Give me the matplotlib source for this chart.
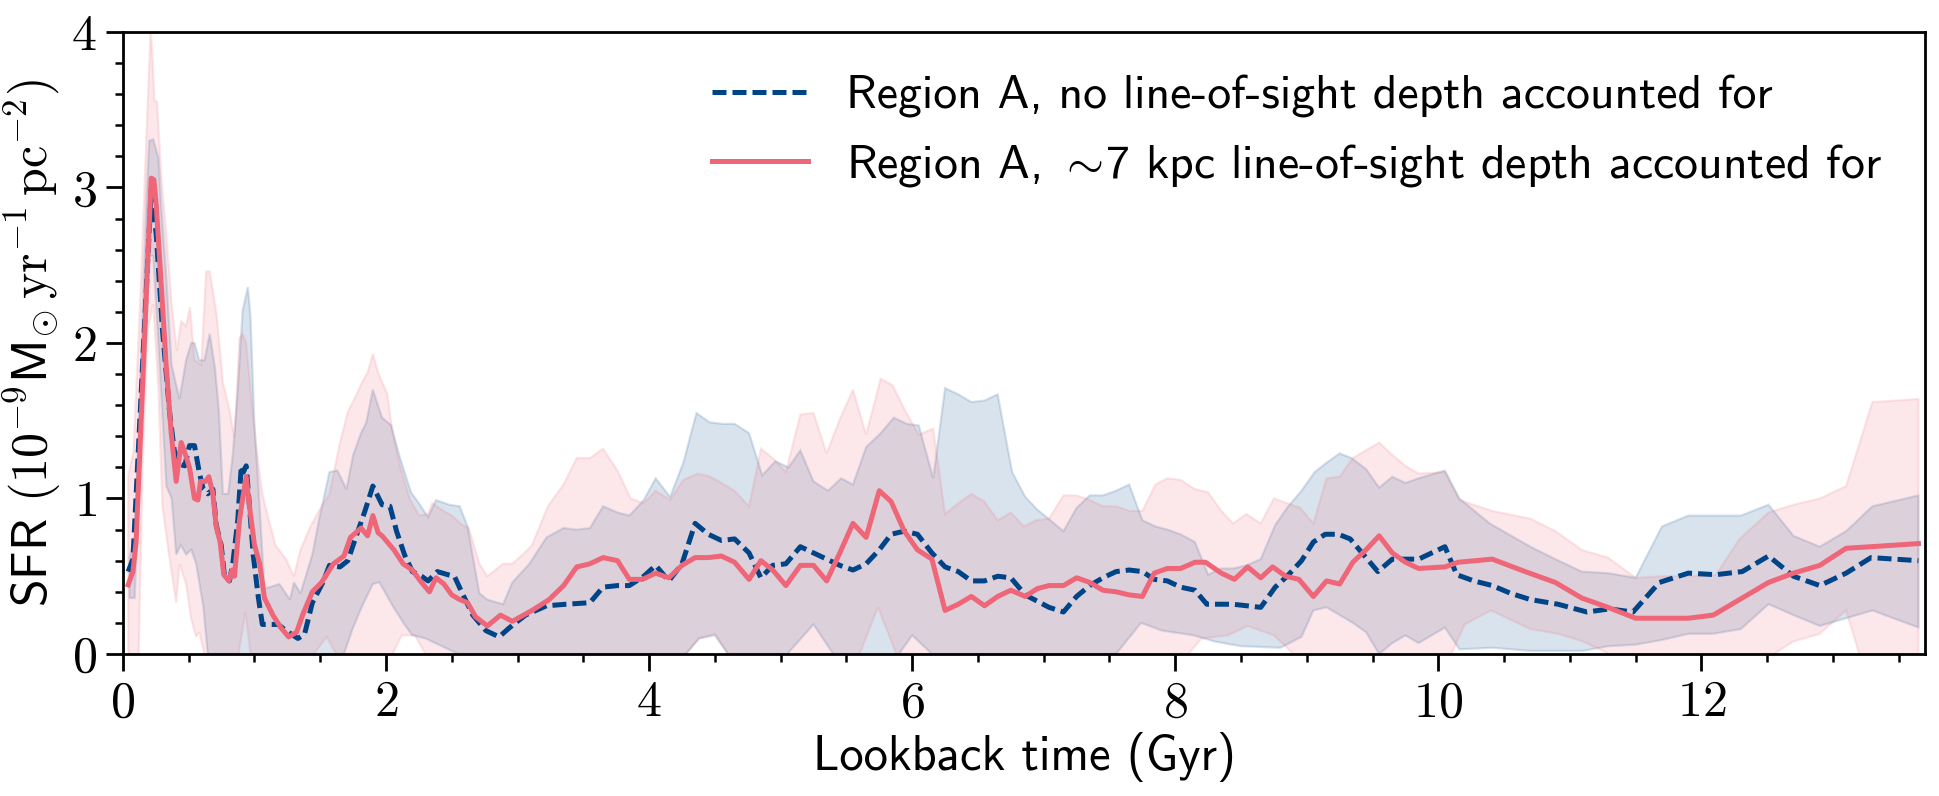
import numpy as np
import matplotlib
matplotlib.use("Agg")
import matplotlib.pyplot as plt
from matplotlib.ticker import MultipleLocator

# === Data ===
# Region A, no line-of-sight depth (dashed blue)
t_blue = [0.04, 0.076, 0.215, 0.253, 0.30, 0.354, 0.39, 0.43, 0.47, 0.506,
          0.544, 0.58, 0.61, 0.645, 0.684, 0.709, 0.747, 0.772, 0.81, 0.835,
          0.873, 0.90, 0.916, 0.937, 0.962, 0.99, 1.03, 1.06, 1.10, 1.18,
          1.24, 1.33, 1.38, 1.44, 1.52, 1.57, 1.65, 1.71, 1.77, 1.84,
          1.90, 1.97, 2.03, 2.08, 2.14, 2.20, 2.27, 2.32, 2.39, 2.47,
          2.52, 2.58, 2.66, 2.76, 2.86, 2.94, 3.06, 3.22, 3.37, 3.55,
          3.65, 3.76, 3.85, 3.96, 4.05, 4.15, 4.25, 4.35, 4.45, 4.55,
          4.65, 4.76, 4.85, 4.94, 5.04, 5.15, 5.25, 5.35, 5.45, 5.55,
          5.65, 5.75, 5.84, 5.94, 6.04, 6.15, 6.25, 6.35, 6.45, 6.55,
          6.65, 6.75, 6.86, 6.95, 7.04, 7.15, 7.25, 7.35, 7.45, 7.55,
          7.65, 7.75, 7.84, 7.94, 8.04, 8.15, 8.24, 8.44, 8.65, 8.76,
          8.85, 8.96, 9.05, 9.14, 9.24, 9.33, 9.42, 9.54, 9.65, 9.75,
          9.85, 9.95, 10.05, 10.14, 10.27, 10.41, 10.55, 10.70, 10.91, 11.13,
          11.30, 11.48, 11.68, 11.90, 12.11, 12.31, 12.51, 12.70, 12.90, 13.10,
          13.29, 13.65]
sfr_blue = [0.53, 0.61, 2.98, 2.70, 2.09, 1.56, 1.31, 1.22, 1.21, 1.34,
            1.34, 1.17, 1.06, 1.03, 1.06, 0.83, 0.70, 0.50, 0.47, 0.58,
            0.86, 1.21, 1.17, 1.21, 0.95, 0.64, 0.36, 0.19, 0.19, 0.19,
            0.15, 0.10, 0.125, 0.33, 0.46, 0.57, 0.56, 0.60, 0.75, 0.92,
            1.08, 0.96, 0.95, 0.79, 0.64, 0.53, 0.50, 0.47, 0.53, 0.51,
            0.50, 0.39, 0.25, 0.15, 0.11, 0.17, 0.25, 0.31, 0.32, 0.33,
            0.43, 0.44, 0.44, 0.50, 0.57, 0.47, 0.58, 0.84, 0.77, 0.73,
            0.74, 0.65, 0.49, 0.57, 0.58, 0.69, 0.65, 0.61, 0.57, 0.54,
            0.58, 0.67, 0.77, 0.79, 0.77, 0.65, 0.56, 0.53, 0.47, 0.47,
            0.50, 0.49, 0.38, 0.34, 0.30, 0.27, 0.37, 0.44, 0.49, 0.53,
            0.54, 0.53, 0.48, 0.47, 0.43, 0.41, 0.32, 0.32, 0.30, 0.43,
            0.50, 0.60, 0.72, 0.77, 0.77, 0.74, 0.65, 0.53, 0.61, 0.61,
            0.61, 0.65, 0.69, 0.51, 0.47, 0.44, 0.39, 0.35, 0.32, 0.27,
            0.29, 0.27, 0.46, 0.52, 0.51, 0.53, 0.63, 0.50, 0.44, 0.52,
            0.62, 0.60]

# Region A, ~7 kpc line-of-sight depth (solid red)
t_red = [0.04, 0.076, 0.10, 0.215, 0.235, 0.253, 0.29, 0.33, 0.367, 0.405,
         0.443, 0.476, 0.506, 0.544, 0.57, 0.59, 0.628, 0.653, 0.684, 0.709,
         0.739, 0.767, 0.805, 0.83, 0.848, 0.886, 0.91, 0.937, 0.962, 1.0,
         1.04, 1.076, 1.14, 1.2, 1.26, 1.32, 1.37, 1.44, 1.51, 1.6,
         1.68, 1.73, 1.81, 1.86, 1.9, 1.94, 1.97, 2.03, 2.06, 2.13,
         2.2, 2.27, 2.33, 2.38, 2.44, 2.5, 2.56, 2.62, 2.68, 2.77,
         2.87, 2.96, 3.11, 3.24, 3.35, 3.45, 3.55, 3.65, 3.76, 3.85,
         3.95, 4.05, 4.15, 4.25, 4.35, 4.45, 4.55, 4.65, 4.76, 4.85,
         4.94, 5.04, 5.15, 5.25, 5.35, 5.45, 5.55, 5.65, 5.75, 5.84,
         5.94, 6.04, 6.15, 6.25, 6.35, 6.45, 6.55, 6.65, 6.75, 6.86,
         6.95, 7.04, 7.15, 7.25, 7.35, 7.45, 7.55, 7.65, 7.75, 7.84,
         7.94, 8.04, 8.15, 8.23, 8.35, 8.45, 8.55, 8.65, 8.74, 8.84,
         8.94, 9.05, 9.15, 9.25, 9.35, 9.45, 9.55, 9.65, 9.75, 9.85,
         10.05, 10.15, 10.41, 10.66, 10.89, 11.09, 11.29, 11.5, 11.7, 11.9,
         12.09, 12.29, 12.51, 12.7, 12.9, 13.1, 13.29, 13.65]
sfr_red = [0.445, 0.53, 0.72, 3.06, 3.05, 2.89, 2.39, 1.84, 1.42, 1.11,
           1.36, 1.28, 1.20, 1.00, 0.99, 1.11, 1.11, 1.14, 1.03, 0.82,
           0.72, 0.51, 0.47, 0.54, 0.50, 0.86, 1.00, 1.14, 0.95, 0.70,
           0.58, 0.36, 0.25, 0.17, 0.11, 0.14, 0.26, 0.40, 0.46, 0.58,
           0.63, 0.75, 0.81, 0.76, 0.89, 0.78, 0.76, 0.70, 0.67, 0.58,
           0.54, 0.46, 0.40, 0.49, 0.45, 0.38, 0.35, 0.33, 0.24, 0.18,
           0.25, 0.21, 0.28, 0.35, 0.44, 0.56, 0.58, 0.62, 0.60, 0.48,
           0.48, 0.52, 0.49, 0.57, 0.62, 0.62, 0.63, 0.59, 0.48, 0.60,
           0.54, 0.44, 0.57, 0.57, 0.47, 0.65, 0.84, 0.75, 1.05, 0.98,
           0.79, 0.67, 0.61, 0.28, 0.32, 0.37, 0.31, 0.37, 0.41, 0.37,
           0.42, 0.44, 0.44, 0.49, 0.46, 0.41, 0.40, 0.38, 0.37, 0.52,
           0.55, 0.55, 0.59, 0.59, 0.52, 0.48, 0.56, 0.49, 0.56, 0.50,
           0.48, 0.37, 0.47, 0.45, 0.59, 0.67, 0.76, 0.65, 0.59, 0.55,
           0.56, 0.59, 0.61, 0.53, 0.46, 0.36, 0.30, 0.23, 0.23, 0.23,
           0.25, 0.35, 0.46, 0.52, 0.57, 0.68, 0.69, 0.71]

# uncertainty bands: upper / lower envelopes
t_blue_hi = [0.05, 0.09, 0.13, 0.18, 0.20, 0.23, 0.27, 0.29, 0.33, 0.37,
             0.43, 0.48, 0.52, 0.544, 0.58, 0.62, 0.66, 0.70, 0.73, 0.76,
             0.80, 0.835, 0.873, 0.91, 0.95, 0.97, 1.00, 1.03, 1.076, 1.19,
             1.27, 1.30, 1.35, 1.44, 1.49, 1.57, 1.63, 1.70, 1.75, 1.81,
             1.85, 1.90, 1.97, 2.04, 2.10, 2.19, 2.25, 2.32, 2.38, 2.48,
             2.56, 2.62, 2.71, 2.77, 2.89, 2.96, 3.09, 3.22, 3.35, 3.45,
             3.55, 3.65, 3.76, 3.85, 3.96, 4.05, 4.16, 4.26, 4.36, 4.46,
             4.56, 4.65, 4.76, 4.86, 4.96, 5.06, 5.15, 5.25, 5.36, 5.46,
             5.55, 5.65, 5.76, 5.86, 5.96, 6.05, 6.16, 6.25, 6.35, 6.45,
             6.55, 6.65, 6.76, 6.86, 6.95, 7.05, 7.15, 7.25, 7.35, 7.45,
             7.55, 7.65, 7.75, 7.85, 7.94, 8.04, 8.15, 8.25, 8.35, 8.44,
             8.54, 8.65, 8.76, 8.85, 8.96, 9.06, 9.15, 9.25, 9.34, 9.45,
             9.55, 9.65, 9.75, 9.85, 10.05, 10.16, 10.39, 10.70, 10.89, 11.09,
             11.29, 11.50, 11.70, 11.90, 12.11, 12.30, 12.51, 12.70, 12.90, 13.10,
             13.30, 13.65]
sfr_blue_hi = [0.62, 0.75, 1.70, 2.95, 3.30, 3.31, 3.19, 2.90, 2.42, 1.86,
               1.64, 1.89, 2.00, 2.00, 1.89, 1.89, 2.06, 1.84, 1.56, 1.03,
               1.03, 1.28, 1.70, 2.21, 2.36, 2.17, 1.47, 1.08, 0.42, 0.45,
               0.35, 0.46, 0.39, 0.64, 0.86, 1.17, 1.18, 1.06, 1.28, 1.42,
               1.49, 1.70, 1.52, 1.47, 1.28, 1.04, 0.97, 0.88, 0.99, 0.96,
               0.95, 0.82, 0.39, 0.35, 0.32, 0.46, 0.58, 0.75, 0.81, 0.80,
               0.81, 0.95, 0.91, 0.89, 0.99, 1.13, 1.01, 1.23, 1.55, 1.49,
               1.48, 1.48, 1.42, 1.15, 1.24, 1.20, 1.31, 1.11, 1.05, 1.13,
               1.09, 1.33, 1.42, 1.52, 1.48, 1.47, 1.13, 1.71, 1.67, 1.62,
               1.63, 1.67, 1.17, 1.01, 0.93, 0.86, 0.79, 0.94, 1.02, 1.02,
               1.05, 1.09, 0.86, 0.82, 0.80, 0.77, 0.72, 0.51, 0.55, 0.55,
               0.57, 0.61, 0.83, 0.94, 1.05, 1.17, 1.23, 1.29, 1.26, 1.19,
               1.07, 1.14, 1.10, 1.13, 1.18, 1.00, 0.84, 0.69, 0.61, 0.53,
               0.52, 0.49, 0.82, 0.89, 0.89, 0.89, 0.96, 0.76, 0.69, 0.79,
               0.95, 1.02]
t_blue_lo = [0.05, 0.09, 0.14, 0.19, 0.23, 0.28, 0.33, 0.37, 0.405, 0.44,
             0.48, 0.52, 0.557, 0.61, 0.645, 1.68, 1.75, 1.82, 1.90, 1.95,
             2.05, 2.14, 2.20, 2.30, 2.40, 2.55, 4.28, 4.38, 4.50, 4.60,
             5.05, 5.25, 5.40, 5.90, 6.00, 6.15, 7.55, 7.74, 7.90, 8.14,
             8.30, 8.50, 8.80, 8.96, 9.05, 9.15, 9.35, 9.45, 9.55, 9.65,
             9.75, 9.85, 10.05, 10.16, 10.41, 10.70, 11.10, 11.29, 11.50, 11.70,
             11.90, 12.09, 12.30, 12.51, 12.70, 12.90, 13.10, 13.30, 13.65]
sfr_blue_lo = [0.36, 0.36, 1.56, 2.56, 2.56, 1.84, 1.08, 1.00, 0.64, 0.70,
               0.64, 0.67, 0.58, 0.31, 0.00, 0.00, 0.17, 0.31, 0.45, 0.46,
               0.31, 0.19, 0.12, 0.10, 0.06, 0.00, 0.00, 0.10, 0.12, 0.00,
               0.00, 0.19, 0.00, 0.00, 0.12, 0.00, 0.00, 0.20, 0.15, 0.12,
               0.08, 0.05, 0.04, 0.11, 0.28, 0.30, 0.20, 0.14, 0.00, 0.07,
               0.12, 0.07, 0.17, 0.03, 0.04, 0.02, 0.02, 0.05, 0.06, 0.09,
               0.13, 0.13, 0.16, 0.32, 0.25, 0.18, 0.23, 0.28, 0.17]

t_red_hi = [0.04, 0.08, 0.14, 0.18, 0.21, 0.22, 0.24, 0.26, 0.29, 0.33,
            0.37, 0.41, 0.443, 0.48, 0.51, 0.544, 0.595, 0.633, 0.66, 0.71,
            0.76, 0.81, 0.848, 0.886, 0.91, 0.937, 0.97, 1.01, 1.06, 1.11,
            1.16, 1.24, 1.30, 1.35, 1.42, 1.49, 1.57, 1.65, 1.71, 1.76,
            1.82, 1.86, 1.90, 1.94, 2.01, 2.05, 2.11, 2.18, 2.25, 2.32,
            2.35, 2.42, 2.50, 2.58, 2.63, 2.71, 2.77, 2.89, 2.96, 3.04,
            3.11, 3.23, 3.35, 3.45, 3.55, 3.65, 3.76, 3.86, 3.96, 4.05,
            4.16, 4.26, 4.37, 4.47, 4.57, 4.65, 4.76, 4.85, 4.94, 5.04,
            5.15, 5.25, 5.35, 5.45, 5.55, 5.65, 5.76, 5.85, 5.95, 6.05,
            6.16, 6.25, 6.35, 6.45, 6.55, 6.65, 6.75, 6.85, 6.94, 7.04,
            7.15, 7.25, 7.35, 7.45, 7.55, 7.65, 7.75, 7.85, 7.94, 8.04,
            8.15, 8.25, 8.35, 8.44, 8.54, 8.65, 8.75, 8.85, 8.95, 9.05,
            9.15, 9.25, 9.35, 9.55, 9.65, 9.75, 9.85, 10.05, 10.16, 10.41,
            10.70, 10.89, 11.09, 11.29, 11.50, 11.70, 11.91, 12.11, 12.29, 12.51,
            12.70, 12.90, 13.10, 13.30, 13.65]
sfr_red_hi = [1.15, 1.30, 2.45, 3.37, 4.00, 3.92, 3.56, 3.55, 3.09, 2.70,
              2.25, 1.95, 2.14, 2.11, 2.23, 1.89, 1.86, 2.46, 2.46, 2.20,
              1.75, 1.57, 1.39, 2.03, 2.06, 2.00, 1.70, 1.36, 1.03, 0.86,
              0.70, 0.61, 0.50, 0.67, 0.81, 0.92, 1.03, 1.36, 1.56, 1.64,
              1.75, 1.81, 1.93, 1.81, 1.67, 1.42, 1.20, 1.00, 0.89, 0.90,
              0.97, 0.93, 0.89, 0.83, 0.81, 0.58, 0.50, 0.58, 0.58, 0.64,
              0.70, 0.95, 1.09, 1.26, 1.26, 1.32, 1.18, 1.00, 0.97, 1.05,
              0.99, 1.12, 1.16, 1.14, 1.09, 1.05, 0.95, 1.32, 1.26, 1.17,
              1.54, 1.55, 1.29, 1.51, 1.70, 1.41, 1.77, 1.73, 1.56, 1.41,
              1.45, 0.90, 0.97, 1.03, 0.98, 0.86, 0.91, 0.82, 0.86, 0.87,
              1.02, 1.02, 0.99, 0.95, 0.95, 0.92, 0.92, 1.09, 1.13, 1.12,
              1.06, 1.04, 0.92, 0.84, 0.90, 0.84, 1.00, 0.97, 0.94, 0.84,
              1.13, 1.14, 1.26, 1.36, 1.28, 1.21, 1.16, 1.17, 0.99, 0.92,
              0.87, 0.79, 0.67, 0.62, 0.49, 0.50, 0.50, 0.51, 0.74, 0.91,
              0.96, 1.00, 1.08, 1.62, 1.64]
t_red_lo = [0.04, 0.12, 0.15, 0.19, 0.23, 0.27, 0.30, 0.35, 0.405, 0.43,
            0.48, 0.52, 0.557, 0.58, 0.62, 0.88, 0.93, 0.97, 1.45, 1.55,
            1.62, 2.05, 2.12, 2.22, 2.30, 4.28, 4.38, 4.50, 4.60, 5.60,
            5.74, 5.88, 8.10, 8.20, 8.40, 8.55, 8.75, 8.90, 10.10, 10.20,
            10.40, 10.70, 10.91, 11.10, 11.30, 12.55, 12.70, 12.90, 13.10, 13.20,
            13.65]
sfr_red_lo = [0.00, 0.00, 1.20, 2.09, 2.25, 1.70, 0.95, 0.64, 0.33, 0.58,
              0.45, 0.22, 0.11, 0.14, 0.00, 0.00, 0.27, 0.00, 0.00, 0.11,
              0.00, 0.00, 0.12, 0.12, 0.00, 0.00, 0.10, 0.13, 0.00, 0.00,
              0.30, 0.00, 0.00, 0.10, 0.12, 0.18, 0.12, 0.00, 0.00, 0.19,
              0.28, 0.16, 0.13, 0.08, 0.00, 0.00, 0.08, 0.13, 0.28, 0.00,
              0.00]

label_blue = "Region A, no line-of-sight depth accounted for"
label_red = r"Region A, ${\sim}\!$7 kpc line-of-sight depth accounted for"

c_blue = "#004488"
c_red = "#EE6677"

# === Style ===
plt.rcParams["font.family"] = "cmss10"
plt.rcParams["mathtext.fontset"] = "cm"
plt.rcParams["axes.formatter.use_mathtext"] = True
plt.rcParams["font.size"] = 17.5
plt.rcParams["axes.linewidth"] = 1.0


def bande(ax, t_hi, v_hi, t_lo, v_lo, couleur):
    # polygon: upper envelope then lower envelope backwards
    xs = np.concatenate([t_hi, t_lo[::-1]])
    ys = np.concatenate([v_hi, v_lo[::-1]])
    ax.fill(xs, ys, color=couleur, alpha=0.15, lw=0.8)


fig = plt.figure(figsize=(9.695, 3.98), dpi=200)
ax = fig.add_axes([0.0634, 0.1784, 0.9294, 0.7814])

bande(ax, np.array(t_blue_hi), np.array(sfr_blue_hi),
      np.array(t_blue_lo), np.array(sfr_blue_lo), c_blue)
bande(ax, np.array(t_red_hi), np.array(sfr_red_hi),
      np.array(t_red_lo), np.array(sfr_red_lo), c_red)

ax.plot(t_blue, sfr_blue, color=c_blue, ls="--", dashes=(2.8, 1.2), lw=1.8,
        label=label_blue)
ax.plot(t_red, sfr_red, color=c_red, lw=1.8, label=label_red)

ax.set_xlim(0, 13.7)
ax.set_ylim(0, 4)
ax.xaxis.set_major_locator(MultipleLocator(2))
ax.xaxis.set_minor_locator(MultipleLocator(0.5))
ax.yaxis.set_major_locator(MultipleLocator(1))
ax.yaxis.set_minor_locator(MultipleLocator(0.2))
ax.tick_params(which="major", direction="out", length=6, width=1.0,
               top=False, right=False, labelsize=18, labelfontfamily="cmr10")
ax.tick_params(which="minor", direction="out", length=3, width=0.9,
               top=False, right=False)

ax.set_xlabel("Lookback time (Gyr)", fontsize=17.5, labelpad=2)
ax.set_ylabel(r"SFR $(10^{-9}$M$_{\odot}\,\mathrm{yr}^{-1}\,\mathrm{pc}^{-2})$",
              fontsize=18, labelpad=3)

ax.legend(loc="upper right", frameon=False, fontsize=17.2)

fig.savefig("out.png", dpi=200)
